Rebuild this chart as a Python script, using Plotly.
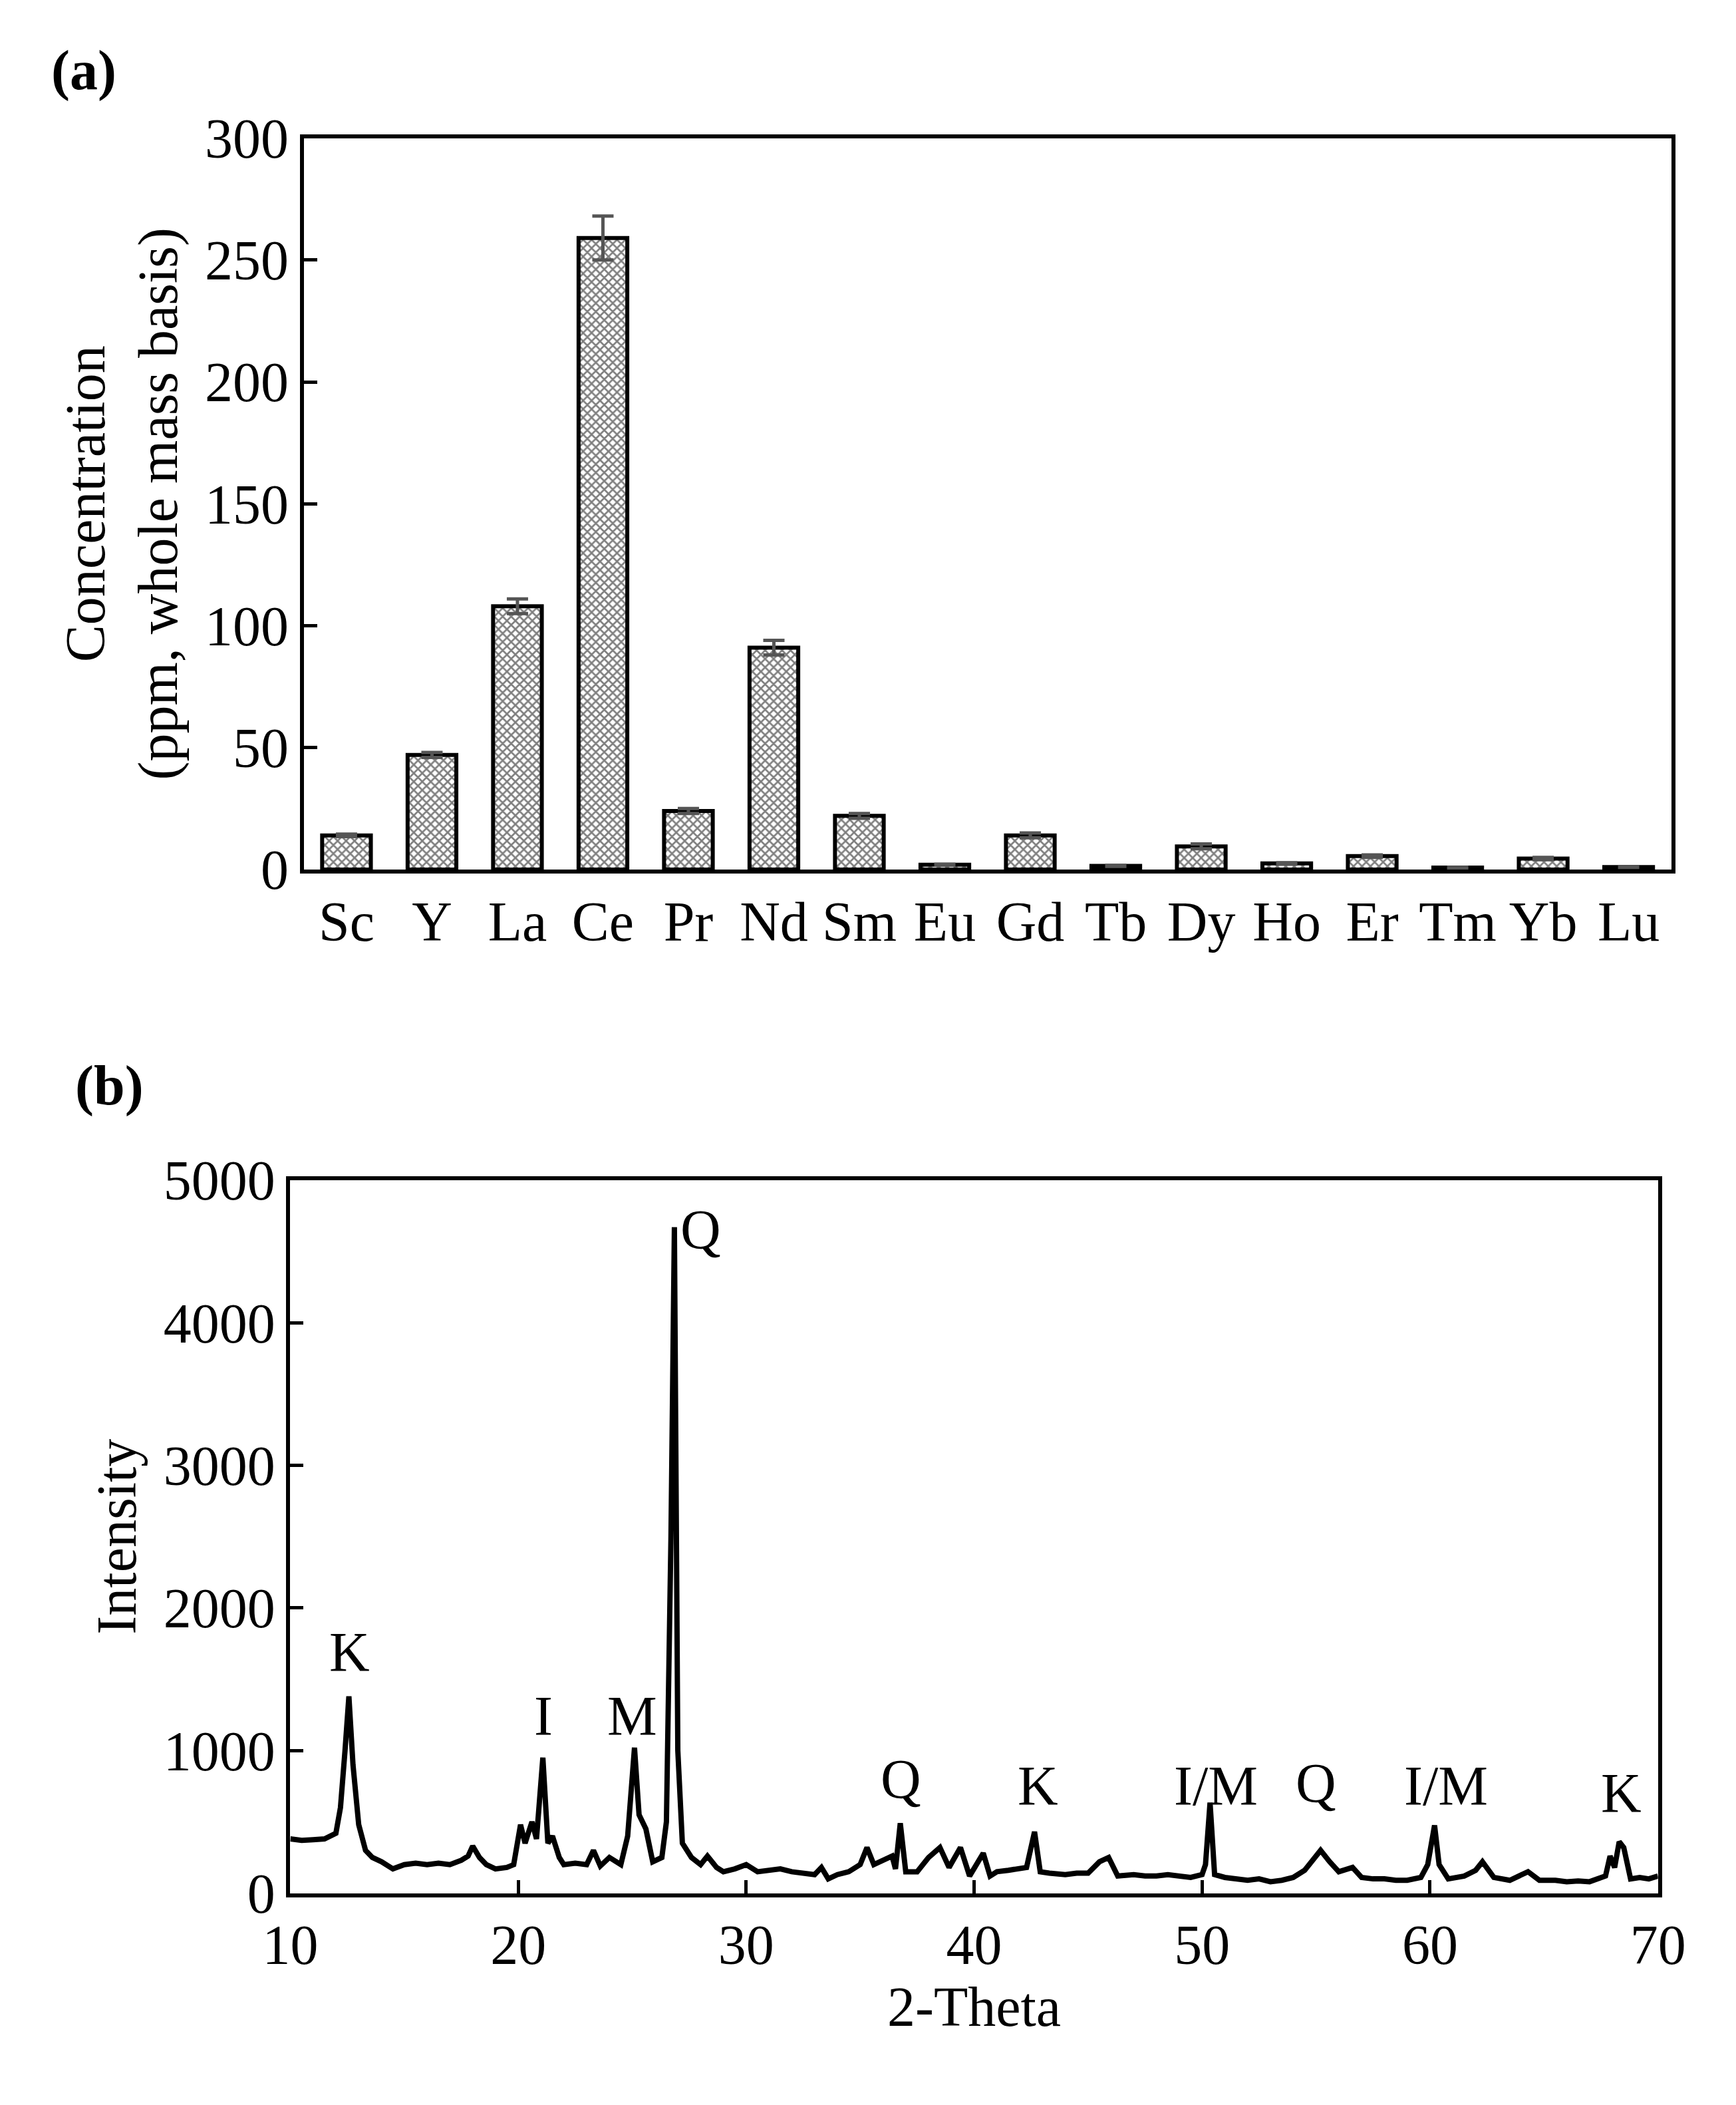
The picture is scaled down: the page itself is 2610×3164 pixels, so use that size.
import plotly.graph_objects as go

# panel (a): REE concentrations
elements = ["Sc", "Y", "La", "Ce", "Pr", "Nd", "Sm", "Eu", "Gd", "Tb", "Dy", "Ho", "Er", "Tm", "Yb", "Lu"]
conc = [14, 47, 108, 259, 24, 91, 22, 2, 14, 1.5, 9.5, 2.5, 5.5, 0.8, 4.5, 1.0]
conc_err = [0.5, 1, 3, 9, 1, 3, 1, 0.2, 1, 0.2, 1, 0.3, 0.5, 0.1, 0.5, 0.1]

# panel (b): XRD pattern
theta = [10, 10.5, 11, 11.5, 12, 12.2, 12.4, 12.57, 12.75, 13.0, 13.3, 13.6, 14, 14.5, 15, 15.5, 16, 16.5, 17,
         17.5, 17.8, 18.0, 18.3, 18.6, 19, 19.5, 19.8, 20.1, 20.3, 20.6, 20.8, 21.08, 21.3, 21.5, 21.8, 22, 22.5,
         23, 23.3, 23.6, 24, 24.5, 24.8, 25.1, 25.3, 25.6, 25.9, 26.3, 26.5, 26.7, 26.85, 27.0, 27.2, 27.6, 28,
         28.3, 28.7, 29, 29.5, 30, 30.5, 31, 31.5, 32, 32.5, 33, 33.3, 33.6, 34, 34.5, 35, 35.3, 35.6, 36, 36.4,
         36.55, 36.76, 37.0, 37.5, 38, 38.5, 38.9, 39.4, 39.8, 40.4, 40.7, 41, 41.5, 42, 42.3, 42.65, 42.9, 43.3,
         44, 44.5, 45, 45.5, 45.9, 46.3, 47, 47.5, 48, 48.5, 49, 49.5, 50, 50.15, 50.35, 50.55, 51, 51.5, 52,
         52.5, 53, 53.5, 54, 54.5, 55, 55.2, 55.6, 56, 56.6, 57, 57.5, 58, 58.5, 59, 59.6, 59.9, 60.2, 60.4,
         60.8, 61.5, 62, 62.3, 62.8, 63.5, 64.3, 64.8, 65.5, 66, 66.5, 67, 67.7, 67.9, 68.1, 68.3, 68.5, 68.8,
         69.2, 69.6, 70]
intensity = [380, 370, 375, 380, 420, 600, 1000, 1380, 900, 480, 300, 250, 220, 170, 200, 210, 200, 210, 200,
             230, 260, 330, 250, 200, 170, 180, 200, 480, 350, 500, 380, 950, 350, 400, 250, 200, 210,
             200, 300, 190, 250, 200, 400, 1020, 550, 450, 220, 250, 500, 2500, 4670, 1000, 350, 250, 200,
             260, 180, 150, 170, 200, 150, 160, 170, 150, 140, 130, 180, 100, 130, 150, 200, 320, 200, 230, 260,
             170, 490, 150, 150, 250, 320, 180, 320, 120, 280, 120, 150, 160, 170, 180, 430, 150, 140,
             130, 140, 140, 220, 250, 120, 130, 120, 120, 130, 120, 110, 130, 200, 635, 130, 110, 100, 90,
             100, 80, 90, 110, 160, 260, 300, 220, 150, 180, 110, 100, 100, 90, 90, 110, 200, 475, 200,
             100, 120, 160, 220, 110, 90, 150, 90, 90, 80, 85, 80, 120, 260, 180, 360, 320, 100,
             110, 100, 120]

peak_labels = ["K", "I", "M", "Q", "Q", "K", "I/M", "Q", "I/M", "K"]
label_x = [12.6, 21.1, 25.0, 28.0, 36.8, 42.8, 50.6, 55.0, 60.7, 68.4]
label_y = [1690, 1240, 1240, 4650, 800, 750, 750, 770, 750, 700]

FONT = "Liberation Serif, Times New Roman, serif"
FS = 84

fig = go.Figure()

fig.add_trace(go.Bar(
    x=elements, y=conc,
    error_y=dict(type="data", array=conc_err, color="#555555", thickness=5, width=16),
    marker=dict(color="white", line=dict(color="black", width=6),
                pattern=dict(shape="x", fgcolor="black", bgcolor="white", size=9, solidity=0.5)),
    width=0.57, xaxis="x", yaxis="y", showlegend=False,
))

fig.add_trace(go.Scatter(
    x=theta, y=intensity, mode="lines",
    line=dict(color="black", width=8), xaxis="x2", yaxis="y2", showlegend=False,
))

for txt, xx, yy in zip(peak_labels, label_x, label_y):
    fig.add_annotation(x=xx, y=yy, text=txt, xref="x2", yref="y2", showarrow=False,
                       font=dict(size=FS, family=FONT, color="black"))

axis_common = dict(showline=True, linecolor="black", linewidth=6, mirror=True,
                   showgrid=False, zeroline=False, ticklen=20, tickwidth=5,
                   tickcolor="black", tickfont=dict(size=FS, family=FONT, color="black"))

fig.update_layout(
    width=2610, height=3164,
    margin=dict(l=0, r=0, t=0, b=0),
    paper_bgcolor="white", plot_bgcolor="white",
    font=dict(family=FONT, color="black"),
    xaxis=dict(domain=[0.161, 0.975], anchor="y", ticks="", **axis_common),
    yaxis=dict(domain=[0.592, 0.950], anchor="x", range=[0, 300], dtick=50, ticks="inside",
               title=dict(text="Concentration<br>(ppm, whole mass basis)", font=dict(size=FS, family=FONT)),
               **axis_common),
    xaxis2=dict(domain=[0.153, 0.967], anchor="y2", range=[10, 70], dtick=10, ticks="inside",
                title=dict(text="2-Theta", font=dict(size=FS, family=FONT)), **axis_common),
    yaxis2=dict(domain=[0.091, 0.440], anchor="x2", range=[0, 5000], dtick=1000, ticks="inside",
                title=dict(text="Intensity", font=dict(size=FS, family=FONT)), **axis_common),
)

fig.add_annotation(x=0.010, y=0.983, xref="paper", yref="paper", text="<b>(a)</b>", showarrow=False,
                   font=dict(size=FS, family=FONT), xanchor="left", yanchor="middle")
fig.add_annotation(x=0.024, y=0.486, xref="paper", yref="paper", text="<b>(b)</b>", showarrow=False,
                   font=dict(size=FS, family=FONT), xanchor="left", yanchor="middle")

fig.write_html("out.html")
